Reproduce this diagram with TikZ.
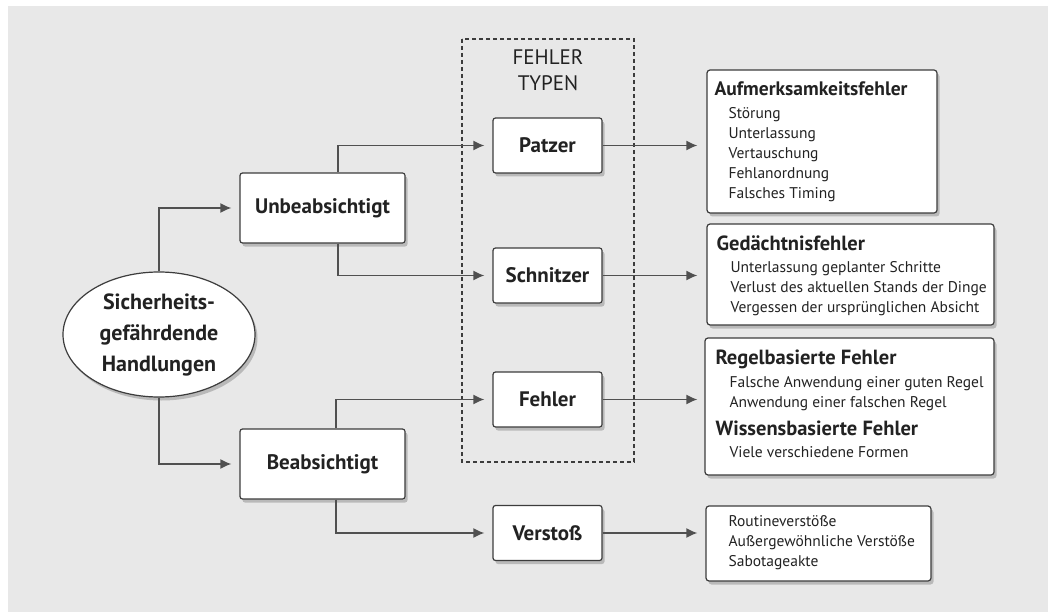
\documentclass[tikz,border=0pt]{standalone}
\usepackage{fontspec}
\setmainfont{PT Sans}
\usetikzlibrary{shapes.geometric,shadows,arrows.meta,calc}

\definecolor{bggray}{HTML}{E8E8E8}
\definecolor{linegray}{HTML}{3C3C3C}
\definecolor{arrowgray}{HTML}{505050}
\definecolor{textgray}{HTML}{222222}

\tikzset{
  shade box/.style={drop shadow={shadow xshift=2.5pt,shadow yshift=-3.5pt,fill=black!45}},
  kindbox/.style={draw=linegray, line width=1.2pt, fill=white, rounded corners=2.5pt, shade box,
    minimum width=165pt, minimum height=70pt, inner sep=0pt, text=textgray,
    font=\fontsize{21}{24}\selectfont\bfseries},
  typebox/.style={draw=linegray, line width=1.2pt, fill=white, rounded corners=2.5pt, shade box,
    minimum width=109pt, minimum height=55pt, inner sep=0pt, text=textgray,
    font=\fontsize{21}{24}\selectfont\bfseries},
  listbox/.style={draw=linegray, line width=1.2pt, fill=white, rounded corners=3pt, shade box,
    inner sep=0pt},
  listtext/.style={anchor=north west, inner sep=0pt, align=left, text=textgray,
    font=\fontsize{15.5}{20}\selectfont},
  flow/.style={draw=arrowgray, line width=1.5pt, -{Latex[length=11pt,width=10pt]}},
}
\newcommand{\listhead}[2][20.5]{{\fontsize{#1}{20}\selectfont\bfseries #2}}
\newcommand{\listitem}{\hspace*{14pt}}

\begin{document}
\begin{tikzpicture}[x=1pt,y=-1pt]
    % --- Hintergrund ---
    \fill[bggray] (8,6) rectangle (1048,612);
    \useasboundingbox (0,0) rectangle (1048,612);

    % --- Fehlertypen (gestrichelter Rahmen) ---
    \draw[linegray, line width=1.2pt, dash pattern=on 4pt off 3pt] (462,39) rectangle (634,462);
    \node[text=textgray, align=center, font=\fontsize{21}{26}\selectfont] (typen) at (548,70) {FEHLER\\TYPEN};

    % --- Ausgangspunkt ---
    \node[ellipse, draw=linegray, line width=1.2pt, fill=white, shade box, minimum width=192pt,
          minimum height=125pt, inner sep=0pt, align=center, text=textgray,
          font=\fontsize{22}{31}\selectfont\bfseries] (handl) at (159,334.5)
          {Sicherheits-\\gefährdende\\Handlungen};

    % --- Absicht ---
    \node[kindbox] (unb) at (322.5,208) {Unbeabsichtigt};
    \node[kindbox] (beab) at (322.5,464) {Beabsichtigt};

    % --- Typen ---
    \node[typebox] (patzer) at (547.5,145.5) {Patzer};
    \node[typebox] (schnitzer) at (547.5,275.5) {Schnitzer};
    \node[typebox] (fehler) at (547.5,399.5) {Fehler};
    \node[typebox] (verstoss) at (547.5,533) {Verstoß};

    % --- Beschreibungen rechts ---
    \node[listbox, minimum width=230pt, minimum height=143pt] (aufm) at (822,141.5) {};
    \node[listtext] (aufmtext) at ($(aufm.north west)+(8,12)$)
        {\listhead[19.5]{Aufmerksamkeitsfehler}\\[3pt]
         \listitem Störung\\ \listitem Unterlassung\\ \listitem Vertauschung\\
         \listitem Fehlanordnung\\ \listitem Falsches Timing};

    \node[listbox, minimum width=287pt, minimum height=101pt] (gedae) at (850.5,274.5) {};
    \node[listtext] (gedaetext) at ($(gedae.north west)+(10,12)$)
        {\listhead{Gedächtnisfehler}\\[2pt]
         \listitem Unterlassung geplanter Schritte\\
         \listitem Verlust des aktuellen Stands der Dinge\\
         \listitem Vergessen der ursprünglichen Absicht};

    \node[listbox, minimum width=289pt, minimum height=137pt] (regel) at (849.5,406.5) {};
    \node[listtext] (regeltext) at ($(regel.north west)+(11,12)$)
        {\listhead{Regelbasierte Fehler}\\[3pt]
         \listitem Falsche Anwendung einer guten Regel\\
         \listitem Anwendung einer falschen Regel\\[8pt]
         \listhead{Wissensbasierte Fehler}\\[2pt]
         \listitem Viele verschiedene Formen};

    \node[listbox, minimum width=225pt, minimum height=75pt] (routine) at (818.5,543.5) {};
    \node[listtext] (routinetext) at ($(routine.north west)+(9,10)$)
        {\listitem Routineverstöße\\ \listitem Außergewöhnliche Verstöße\\ \listitem Sabotageakte};

    % --- Verbindungen ---
    \draw[flow, shorten >=8pt] (handl.north) |- (unb.west);
    \draw[flow, shorten >=8pt] (handl.south) |- (beab.west);

    \draw[flow, shorten >=8pt] ([xshift=15.5pt]unb.north) |- (patzer.west);
    \draw[flow, shorten >=8pt] ([xshift=15.5pt]unb.south) |- (schnitzer.west);
    \draw[flow, shorten >=8pt] ([xshift=13.5pt]beab.north) |- (fehler.west);
    \draw[flow, shorten >=8pt] ([xshift=13.5pt]beab.south) |- (verstoss.west);

    \draw[flow, shorten >=9pt] (patzer.east) -- (patzer.east -| aufm.west);
    \draw[flow, shorten >=9pt] (schnitzer.east) -- (schnitzer.east -| gedae.west);
    \draw[flow, shorten >=7pt] (fehler.east) -- (fehler.east -| regel.west);
    \draw[flow, shorten >=8pt] (verstoss.east) -- (verstoss.east -| routine.west);
\end{tikzpicture}
\end{document}
